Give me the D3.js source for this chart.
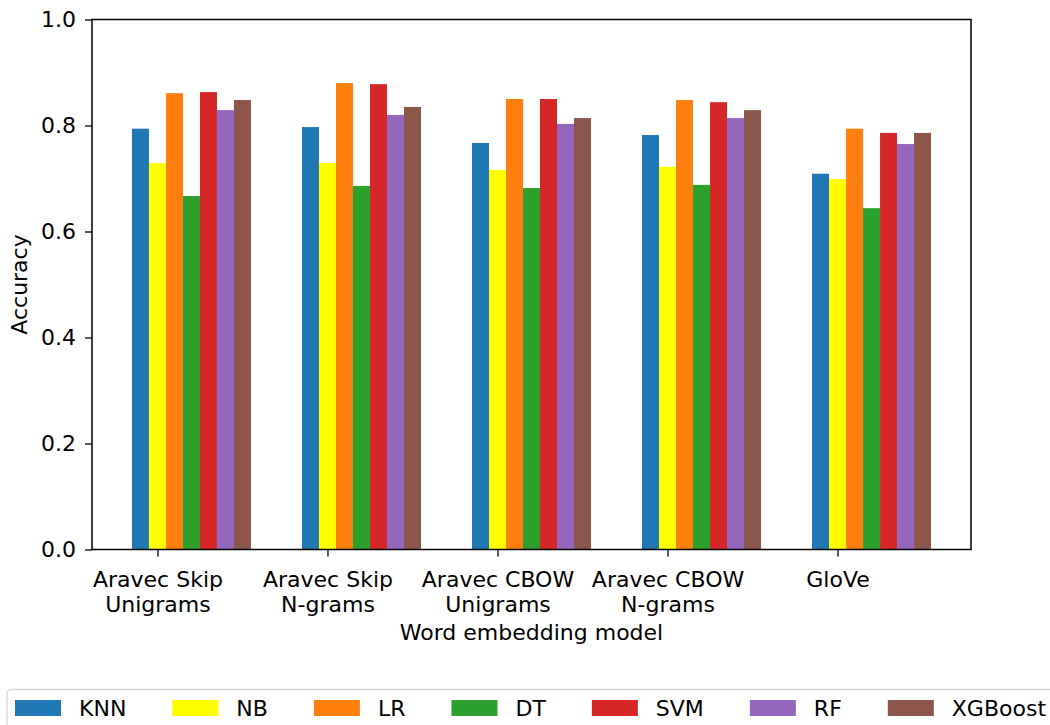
<!DOCTYPE html>
<html>
<head>
<meta charset="utf-8">
<script src="https://cdn.jsdelivr.net/npm/d3@7"></script>
<style>
  body { margin: 0; background: #fff; }
  text { font-family: "DejaVu Sans", sans-serif; fill: #000; }
</style>
</head>
<body>
<div id="chart"></div>
<script>
// word embedding models (x groups)
var models = [
  ["Aravec Skip", "Unigrams"],
  ["Aravec Skip", "N-grams"],
  ["Aravec CBOW", "Unigrams"],
  ["Aravec CBOW", "N-grams"],
  ["GloVe"]
];
var classifiers = ["KNN", "NB", "LR", "DT", "SVM", "RF", "XGBoost"];
var colors = ["#1f77b4", "#ffff00", "#ff7f0e", "#2ca02c", "#d62728", "#9467bd", "#8c564b"];

// accuracy per classifier, one value per model
var knn = [0.794, 0.797, 0.767, 0.782, 0.709];
var nb  = [0.729, 0.729, 0.716, 0.722, 0.699];
var lr  = [0.861, 0.880, 0.850, 0.848, 0.794];
var dt  = [0.667, 0.686, 0.682, 0.688, 0.644];
var svm = [0.863, 0.878, 0.850, 0.844, 0.786];
var rf  = [0.829, 0.820, 0.803, 0.814, 0.765];
var xgb = [0.848, 0.835, 0.814, 0.829, 0.786];
var yTicks = [0.0, 0.2, 0.4, 0.6, 0.8, 1.0];

var series = [knn, nb, lr, dt, svm, rf, xgb];
var barW = 0.1;

var W = 1050, H = 725;
var margin = {top: 19.5, left: 92, right: 79, bottom: 175.5};
var w = W - margin.left - margin.right,
    h = H - margin.top - margin.bottom;

var svg = d3.select("#chart").append("svg")
    .attr("width", W)
    .attr("height", H);

var g = svg.append("g")
    .attr("transform", "translate(" + margin.left + "," + margin.top + ")");

// matplotlib-like autoscale: bar extents plus 5% margins
var xmin = -1.5 * barW, xmax = models.length - 1 + 5.5 * barW;
var pad = (xmax - xmin) * 0.05;
var x = d3.scaleLinear().domain([xmin - pad, xmax + pad]).range([0, w]);
var y = d3.scaleLinear().domain([0, 1]).range([h, 0]);

var bars = [];
series.forEach(function(vals, k) {
  vals.forEach(function(v, i) {
    bars.push({k: k, i: i, v: v});
  });
});

g.selectAll("rect.bar")
  .data(bars)
  .enter().append("rect")
    .attr("class", "bar")
    .attr("x", function(d) { return x(d.i + (d.k - 1) * barW - barW / 2); })
    .attr("width", function(d) { return x(barW) - x(0); })
    .attr("y", function(d) { return y(d.v); })
    .attr("height", function(d) { return h - y(d.v); })
    .style("fill", function(d) { return colors[d.k]; });

// y axis
var yAxis = g.append("g")
    .call(d3.axisLeft(y).tickValues(yTicks).tickFormat(d3.format(".1f")).tickSizeOuter(0).tickSize(7).tickPadding(9));
yAxis.select(".domain").remove();
yAxis.selectAll("line").attr("stroke", "#000").attr("stroke-width", 1.3);
yAxis.selectAll("text").style("font-size", "22px").attr("font-family", null);

// x axis
var xAxis = g.append("g")
    .attr("transform", "translate(0," + h + ")")
    .call(d3.axisBottom(x).tickValues(d3.range(models.length)).tickFormat("").tickSizeOuter(0).tickSize(7));
xAxis.select(".domain").remove();
xAxis.selectAll("line").attr("stroke", "#000").attr("stroke-width", 1.3);

xAxis.selectAll(".tick").each(function(d) {
  var t = d3.select(this).append("text")
      .attr("text-anchor", "middle")
      .style("font-size", "22px");
  models[d].forEach(function(line, j) {
    t.append("tspan").attr("x", 0).attr("y", 37 + j * 25.5).text(line);
  });
});

// frame
g.append("rect")
    .attr("width", w).attr("height", h)
    .attr("fill", "none")
    .attr("stroke", "#000")
    .attr("stroke-width", 1.5);

// axis labels
svg.append("text")
    .attr("transform", "translate(27," + (margin.top + h / 2) + ") rotate(-90)")
    .attr("text-anchor", "middle")
    .style("font-size", "22px")
    .text("Accuracy");

svg.append("text")
    .attr("x", margin.left + w / 2)
    .attr("y", 640)
    .attr("text-anchor", "middle")
    .style("font-size", "22px")
    .text("Word embedding model");

// legend
var legend = svg.append("g");
legend.append("rect")
    .attr("x", 7).attr("y", 689.5)
    .attr("width", 1060).attr("height", 60)
    .attr("rx", 4)
    .attr("fill", "#fff")
    .attr("stroke", "#d6d6d6")
    .attr("stroke-width", 1.3);

var lx = 15;
classifiers.forEach(function(name, k) {
  legend.append("rect")
      .attr("x", lx).attr("y", 700)
      .attr("width", 46).attr("height", 16)
      .style("fill", colors[k]);
  var t = legend.append("text")
      .attr("x", lx + 64).attr("y", 715.5)
      .style("font-size", "22px")
      .text(name);
  lx = lx + 64 + t.node().getComputedTextLength() + 46;
});
</script>
</body>
</html>
